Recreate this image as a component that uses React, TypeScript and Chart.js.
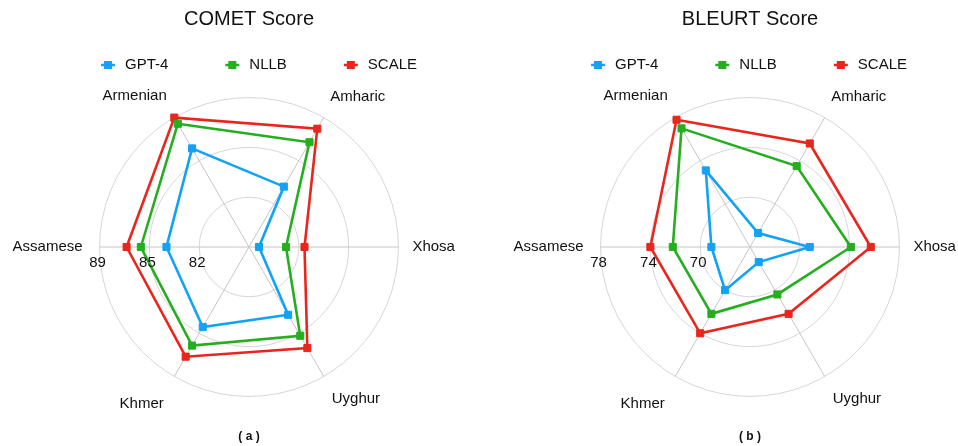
import React, { useEffect, useRef } from "react";
import { Chart, registerables } from "chart.js";

Chart.register(...registerables);

// ---- data ----
const languages = ["Armenian", "Amharic", "Xhosa", "Uyghur", "Khmer", "Assamese"];
const seriesNames = ["GPT-4", "NLLB", "SCALE"];
const seriesColors = ["#12a2f6", "#25ae1f", "#e9261d"];

const cometGPT4 = [86.5, 83.4, 79.2, 84.0, 85.0, 84.3];
const cometNLLB = [88.5, 87.0, 81.1, 85.7, 86.5, 86.1];
const cometSCALE = [89.0, 88.1, 82.4, 86.7, 87.4, 87.1];
const cometTickLabels = ["82", "85", "89"];

const bleurtGPT4 = [73.1, 67.3, 70.8, 67.4, 70.0, 69.1];
const bleurtNLLB = [77.0, 73.5, 74.1, 70.4, 72.2, 72.2];
const bleurtSCALE = [77.8, 75.6, 75.7, 72.2, 74.0, 74.0];
const bleurtTickLabels = ["70", "74", "78"];

const FONT = '"Liberation Sans", Arial, Helvetica, sans-serif';
const labelPadding = [15, 13, 14, 16, 21, 17];

type PanelProps = {
  title: string;
  caption: string;
  series: number[][];
  min: number;
  max: number;
  step: number;
  tickLabels: string[];
  left: number;
  legendShift: number;
};

function RadarPanel(props: PanelProps) {
  const ref = useRef<HTMLCanvasElement | null>(null);
  useEffect(() => {
    if (!ref.current) return;
    const overlay = {
      id: "overlay",
      afterDatasetsDraw(chart: any) {
        const ctx = chart.ctx as CanvasRenderingContext2D;
        const scale = chart.scales.r;
        ctx.save();
        ctx.font = `15px ${FONT}`;
        ctx.fillStyle = "#111";
        ctx.textAlign = "center";
        ctx.textBaseline = "middle";
        const axisIndex = languages.length - 1;
        scale.ticks.forEach((t: any, i: number) => {
          if (i === 0) return;
          const p = scale.getPointPositionForValue(axisIndex, t.value);
          ctx.fillText(String(t.label), p.x - 2, p.y + 16);
        });
        // legend
        const markerW = 14;
        const gap = 10;
        const between = 57;
        const widths = seriesNames.map((n) => markerW + gap + ctx.measureText(n).width);
        const total = widths.reduce((a, b) => a + b, 0) + between * (widths.length - 1);
        let x = chart.width / 2 + props.legendShift - total / 2;
        const y = 65;
        ctx.textAlign = "left";
        seriesNames.forEach((n, i) => {
          ctx.strokeStyle = seriesColors[i];
          ctx.fillStyle = seriesColors[i];
          ctx.lineWidth = 2.5;
          ctx.beginPath();
          ctx.moveTo(x, y);
          ctx.lineTo(x + markerW, y);
          ctx.stroke();
          ctx.fillRect(x + 3, y - 4, 8, 8);
          ctx.fillStyle = "#111";
          ctx.fillText(n, x + markerW + gap, y);
          x += widths[i] + between;
        });
        ctx.restore();
      },
    };
    const chart = new Chart(ref.current, {
      type: "radar",
      data: {
        labels: languages,
        datasets: props.series.map((vals, i) => ({
          label: seriesNames[i],
          data: vals,
          borderColor: seriesColors[i],
          backgroundColor: seriesColors[i],
          pointBackgroundColor: seriesColors[i],
          pointBorderColor: seriesColors[i],
          borderWidth: 2.6,
          pointStyle: "rect",
          pointRadius: 5,
          pointBorderWidth: 1,
          fill: false,
          tension: 0,
        })),
      },
      options: {
        responsive: false,
        animation: false,
        layout: { padding: 0 },
        plugins: {
          legend: { display: false },
          tooltip: { enabled: false },
          title: {
            display: true,
            text: props.title,
            color: "#111",
            font: { family: FONT, size: 20, weight: "normal" },
            padding: { top: 7, bottom: 55 },
          },
          subtitle: {
            display: true,
            position: "bottom",
            text: props.caption,
            color: "#111",
            font: { family: FONT, size: 12, weight: "bold" },
            padding: { top: 14, bottom: 2 },
          },
        },
        scales: {
          r: {
            min: props.min,
            max: props.max,
            startAngle: -30,
            ticks: {
              display: false,
              stepSize: props.step,
              callback: (_v: any, index: number) => props.tickLabels[index - 1] ?? "",
            },
            grid: { circular: true, color: "#d6d6d6", lineWidth: 1 },
            angleLines: { color: "#c6c6c6", lineWidth: 1 },
            pointLabels: {
              color: "#111",
              font: { family: FONT, size: 15 },
              padding: (c: any) => labelPadding[c.index] ?? 15,
            },
          },
        },
      } as any,
      plugins: [overlay],
    });
    return () => chart.destroy();
  }, []);
  return (
    <canvas
      ref={ref}
      width={520}
      height={446}
      style={{ position: "absolute", left: props.left, top: 0, width: 520, height: 446 }}
    />
  );
}

export default function App() {
  return (
    <div
      style={{
        position: "absolute",
        left: 0,
        top: 0,
        width: 958,
        height: 446,
        overflow: "hidden",
        background: "#fff",
      }}
    >
      <RadarPanel
        title="COMET Score"
        caption="( a )"
        series={[cometGPT4, cometNLLB, cometSCALE]}
        min={78.5}
        max={89}
        step={3.5}
        tickLabels={cometTickLabels}
        left={-11}
        legendShift={10}
      />
      <RadarPanel
        title="BLEURT Score"
        caption="( b )"
        series={[bleurtGPT4, bleurtNLLB, bleurtSCALE]}
        min={66}
        max={78}
        step={4}
        tickLabels={bleurtTickLabels}
        left={490}
        legendShift={-1}
      />
    </div>
  );
}
